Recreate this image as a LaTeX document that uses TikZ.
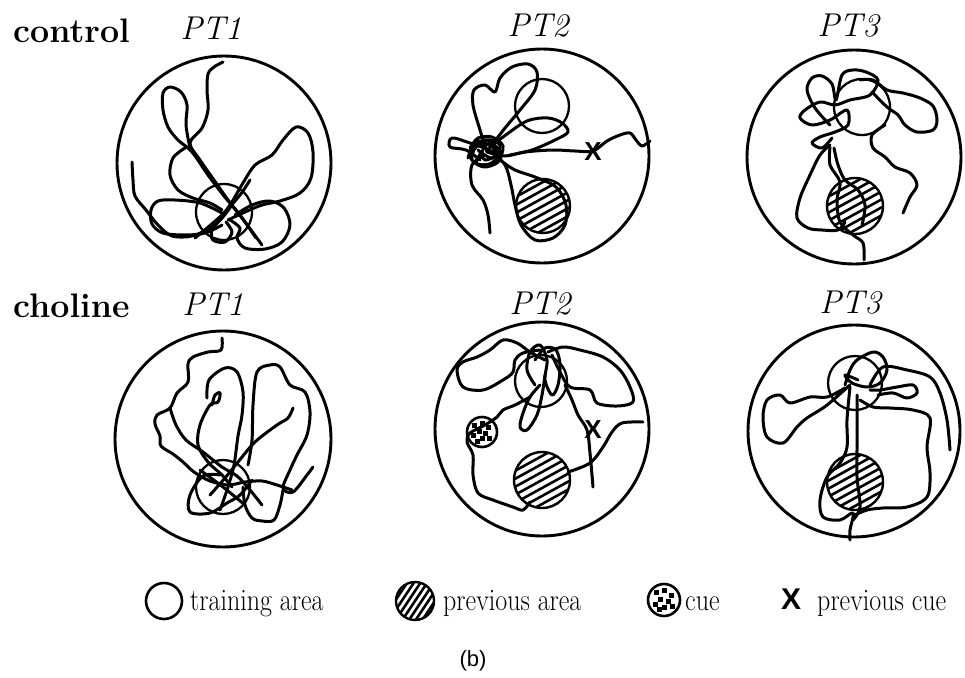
\documentclass[tikz,border=0pt]{standalone}
\usepackage{fontspec}
\usepackage{tikz}
\newfontfamily\sffx{Liberation Sans}

% hatched disk: x, y, radius, slope, vertical step
\newcommand{\prevarea}[5]{%
  \fill[white] (#1,#2) circle[radius=#3];
  \begin{scope}
    \clip (#1,#2) circle[radius=#3];
    \foreach \k in {-7,...,7}
      \draw[line width=2.6pt] ({#1-#3-2},{#2+\k*#5+#4*(#3+2)}) -- ({#1+#3+2},{#2+\k*#5-#4*(#3+2)});
  \end{scope}
  \draw[line width=2.4pt] (#1,#2) circle[radius=#3];}
% cue disk: x, y, radius
\newcommand{\cuedisk}[3]{%
  \draw[line width=2.6pt,fill=white] (#1,#2) circle[radius=#3];
  \foreach \dx/\dy in {-0.5/-0.45,0.05/-0.6,0.45/-0.3,-0.2/-0.05,0.25/0.1,-0.55/0.25,0.0/0.45,0.5/0.4,-0.3/0.6}
    \fill ({#1+\dx*#3-2.5},{#2+\dy*#3-2.5}) rectangle ++(5,5);}

\begin{document}
\begin{tikzpicture}[x=1pt,y=-1pt,
  pool/.style={line width=2.9pt},
  area/.style={line width=2.3pt},
  track/.style={line width=3pt,line join=round,line cap=round},
  rowlab/.style={font=\fontsize{34}{38}\selectfont\bfseries,anchor=base west,inner sep=0pt},
  ptlab/.style={font=\fontsize{33}{36}\selectfont\itshape,anchor=base,inner sep=0pt},
  leg/.style={font=\fontsize{26}{30}\selectfont,anchor=base west,inner sep=0pt},
  xmark/.style={font=\fontsize{26}{28}\selectfont\sffx\bfseries,inner sep=0pt}]
\useasboundingbox (0,0) rectangle (965,677);

% ---- row and trial labels ----
\node[rowlab] (ctl) at (13,42) {control};
\node[rowlab] (cho) at (13,317) {choline};
\node[ptlab] (pt1a) at (211,40) {PT1};
\node[ptlab] (pt2a) at (538,37) {PT2};
\node[ptlab] (pt3a) at (848,37) {PT3};
\node[ptlab] (pt1b) at (213,315) {PT1};
\node[ptlab] (pt2b) at (540,314) {PT2};
\node[ptlab] (pt3b) at (850,313) {PT3};

% ---- control, PT1 ----
\draw[track] plot[smooth,tension=0.55] coordinates {(223,62) (214,67) (208,74) (207,90) (208,110) (202,128) (190,143) (200,160) (214,180) (228,200) (245,222) (262,245)};
\draw[track] plot[smooth,tension=0.55] coordinates {(190,148) (186,125) (187,105) (181,92) (170,87) (163,93) (163,110) (168,127) (178,140) (192,152) (208,175) (224,196) (240,215) (256,238)};
\draw[track] plot[smooth,tension=0.55] coordinates {(185,148) (173,158) (170,175) (178,190) (193,198) (210,203) (222,210)};
\draw[track] plot[smooth,tension=0.55] coordinates {(132,162) (133,180) (135,196) (146,210) (158,225) (172,236) (192,236) (210,228) (222,218) (232,205)};
\draw[track] plot[smooth,tension=0.55] coordinates {(222,213) (200,203) (175,200) (158,201) (151,210) (152,224) (163,233) (185,235) (205,233) (222,225)};
\draw[track] plot[smooth,tension=0.55] coordinates {(215,225) (230,205) (243,183) (255,165) (272,155) (283,140) (296,127) (308,133) (313,152) (311,178) (300,193) (280,201) (262,205) (245,212) (228,220)};
\draw[track] plot[smooth,tension=0.55] coordinates {(235,215) (252,205) (270,201) (284,208) (290,225) (282,242) (265,249) (245,248) (237,238) (240,228) (230,220)};
\draw[track] plot[smooth,tension=0.55] coordinates {(222,218) (212,230) (213,240) (225,242) (232,232) (226,222)};
\draw[track] plot[smooth,tension=0.55] coordinates {(195,238) (222,215) (240,195) (250,180)};
\draw[area] (224,212) circle[radius=28];
\draw[pool] (224,163) circle[radius=107];

% ---- control, PT2 ----
\prevarea{543}{206}{27}{0.55}{8}
\draw[track] plot[smooth,tension=0.55] coordinates {(487,152) (505,156) (525,152) (553,150) (575,151) (593,151) (607,141) (620,135) (630,133) (636,140) (642,146) (650,141)};
\draw[track] plot[smooth,tension=0.55] coordinates {(487,152) (480,130) (473,105) (474,90) (485,85) (495,92) (500,78) (512,67) (528,64) (537,72) (535,90) (520,110) (505,128) (492,145)};
\draw[track] plot[smooth,tension=0.55] coordinates {(490,150) (470,143) (452,138) (450,147) (466,150) (480,160)};
\draw[track] plot[smooth,tension=0.55] coordinates {(485,155) (472,165) (472,185) (483,200) (488,215) (490,233)};
\draw[track] plot[smooth,tension=0.55] coordinates {(490,150) (505,165) (511,185) (515,205) (521,225) (535,240) (553,238) (565,225) (566,205) (556,187) (535,177) (515,170) (500,160)};
\draw[track] plot[smooth,tension=0.55] coordinates {(487,150) (503,137) (527,121) (548,118) (562,123) (568,132) (555,140) (532,150) (510,155)};
\draw[track] plot[smooth,tension=0.55] coordinates {(476,140) (495,148) (500,160) (480,165) (470,155) (485,140) (500,145) (492,158) (478,150)};
\draw[track] plot[smooth,tension=0.5] coordinates {(470,148) (478,138) (492,137) (503,146) (498,162) (484,167) (472,160) (476,147) (490,145) (496,155) (485,160) (480,152)};
\draw[track] plot[smooth,tension=0.5] coordinates {(468,158) (474,144) (488,141) (500,152) (490,164) (476,163) (483,150)};
\draw[area] (542,106) circle[radius=27];
\node[xmark] (xa) at (593,152) {X};
\draw[pool] (542,156) circle[radius=107];

% ---- control, PT3 ----
\prevarea{855}{206}{28}{0.55}{8}
\draw[track] plot[smooth,tension=0.55] coordinates {(860,80) (873,80) (887,90) (903,93) (920,98) (933,106) (937,120) (933,130) (917,132) (905,125) (898,115) (887,107) (872,92)};
\draw[track] plot[smooth,tension=0.55] coordinates {(885,125) (872,135) (873,148) (885,157) (895,167) (910,173) (917,185) (910,197) (903,213)};
\draw[track] plot[smooth,tension=0.55] coordinates {(830,125) (815,108) (807,90) (812,78) (822,76) (832,84) (836,100) (842,75) (853,70) (866,72) (878,80) (870,95) (850,100) (835,105) (820,102) (805,110) (800,118) (812,125) (830,120) (847,110) (848,125) (835,132) (820,137) (812,143) (822,148) (832,138)};
\draw[track] plot[smooth,tension=0.55] coordinates {(830,145) (820,155) (810,175) (800,198) (797,218) (808,228) (822,230) (838,230) (845,222)};
\draw[track] plot[smooth,tension=0.55] coordinates {(830,147) (830,165) (840,182) (837,200) (840,222) (853,235) (863,243) (864,260)};
\draw[track] plot[smooth,tension=0.55] coordinates {(834,148) (838,165) (845,180) (858,190) (865,205) (862,225)};
\draw[area] (862,107) circle[radius=28];
\draw[pool] (854,157) circle[radius=107];

% ---- choline, PT1 ----
\draw[track] plot[smooth,tension=0.55] coordinates {(222,338) (221,350) (208,352) (193,357) (188,364) (188,382) (177,393) (170,408) (157,415) (155,424) (160,436) (161,446) (173,454) (183,462) (194,472) (210,481) (228,485) (245,482) (262,481) (277,485) (292,490)};
\draw[track] plot[smooth,tension=0.55] coordinates {(170,408) (176,425) (186,440) (203,452) (222,467) (237,476) (250,490) (262,505)};
\draw[track] plot[smooth,tension=0.55] coordinates {(207,398) (209,380) (225,368) (237,372) (243,392) (242,415) (238,436) (234,465) (228,487) (220,510)};
\draw[track] plot[smooth,tension=0.55] coordinates {(212,405) (215,395) (220,393) (218,402) (210,405) (200,425) (198,445) (208,462) (222,475) (232,487)};
\draw[track] plot[smooth,tension=0.55] coordinates {(248,465) (252,440) (253,405) (257,372) (270,365) (280,367) (290,385) (305,392) (310,412) (307,435) (297,455) (290,470) (283,488) (293,492) (307,475) (313,467)};
\draw[track] plot[smooth,tension=0.55] coordinates {(293,408) (288,418) (277,425) (255,442) (238,462) (225,478) (210,495)};
\draw[track] plot[smooth,tension=0.55] coordinates {(220,475) (203,476) (190,495) (190,512) (210,513) (227,503) (240,495) (252,480)};
\draw[track] plot[smooth,tension=0.55] coordinates {(243,487) (245,505) (252,518) (262,521) (274,520) (280,505) (283,490)};
\draw[track] plot[smooth,tension=0.55] coordinates {(200,470) (223,487) (245,505)};
\draw[area] (223,487) circle[radius=27];
\draw[pool] (223,439) circle[radius=108];

% ---- choline, PT2 ----
\prevarea{542}{480}{28}{0.55}{8}
\cuedisk{482}{432}{15}
\draw[track] plot[smooth,tension=0.55] coordinates {(545,360) (530,352) (517,343) (503,340) (490,350) (477,357) (463,362) (457,370) (463,387) (483,390) (503,380) (513,372) (515,360) (523,353) (540,350)};
\draw[track] plot[smooth,tension=0.55] coordinates {(548,352) (563,347) (580,350) (603,357) (620,370) (630,387) (633,402) (617,406) (597,403) (590,390) (570,387) (560,372) (552,355)};
\draw[track] plot[smooth,tension=0.55] coordinates {(535,360) (545,348) (556,350) (560,365) (558,385) (552,395) (545,380) (547,360) (540,345) (530,352) (527,370) (535,385)};
\draw[track] plot[smooth,tension=0.55] coordinates {(545,375) (542,395) (537,415) (527,430) (520,427) (523,413) (530,397) (540,385)};
\draw[track] plot[smooth,tension=0.55] coordinates {(530,397) (515,405) (503,410) (497,417) (485,425) (470,433) (467,442) (473,455) (473,475) (478,493) (493,500) (513,507) (523,510) (530,502)};
\draw[track] plot[smooth,tension=0.55] coordinates {(565,385) (572,400) (578,415) (587,430) (590,453) (593,487)};
\draw[track] plot[smooth,tension=0.55] coordinates {(568,472) (590,463) (603,447) (612,432) (622,423) (643,422)};
\draw[area] (541,381) circle[radius=26];
\node[xmark] (xb) at (593,430) {X};
\draw[pool] (542,429) circle[radius=107];

% ---- choline, PT3 ----
\prevarea{855}{482}{28}{0.55}{8}
\draw[track] plot[smooth,tension=0.55] coordinates {(850,385) (833,400) (823,408) (807,418) (797,427) (783,443) (767,437) (763,417) (767,400) (780,395) (790,403) (810,397) (827,397) (845,388)};
\draw[track] plot[smooth,tension=0.55] coordinates {(845,385) (850,370) (857,360) (873,352) (883,357) (887,370) (880,383) (867,387) (852,383) (845,375) (858,380)};
\draw[track] plot[smooth,tension=0.55] coordinates {(870,385) (883,367) (907,370) (930,377) (940,393) (947,420) (950,450)};
\draw[track] plot[smooth,tension=0.55] coordinates {(870,390) (880,390) (897,387) (913,385) (917,393) (907,398) (893,393) (878,395)};
\draw[track] plot[smooth,tension=0.55] coordinates {(860,400) (873,407) (890,408) (913,410) (930,418) (927,447) (930,473) (927,497) (907,507) (883,508) (867,510) (855,515)};
\draw[track] plot[smooth,tension=0.55] coordinates {(850,387) (847,420) (847,447) (840,463) (827,477) (820,500) (823,517) (840,520) (853,513) (850,530) (850,540)};
\draw[track] plot[smooth,tension=0.55] coordinates {(857,395) (857,447) (857,477) (860,507) (853,520)};
\draw[area] (855,383) circle[radius=27];
\draw[pool] (854,431) circle[radius=106];

% ---- legend ----
\draw[line width=2.6pt] (164,601) circle[radius=18];
\node[leg] (lt) at (190,610) {\scalebox{1}[1.2]{training area}};
\prevarea{415}{601}{19}{1.5}{10}
\node[leg] (lp) at (443,610) {\scalebox{1}[1.2]{previous area}};
\cuedisk{664}{600}{16}
\node[leg] (lc) at (685,610) {\scalebox{1}[1.2]{cue}};
\node[xmark,font=\fontsize{30}{32}\selectfont\sffx\bfseries] (lx) at (791,599) {X};
\node[leg] (lpc) at (817,610) {\scalebox{1}[1.2]{previous cue}};

\node[font=\fontsize{22}{24}\selectfont\sffx,inner sep=0pt] (cap) at (473,661) {(b)};
\end{tikzpicture}
\end{document}
